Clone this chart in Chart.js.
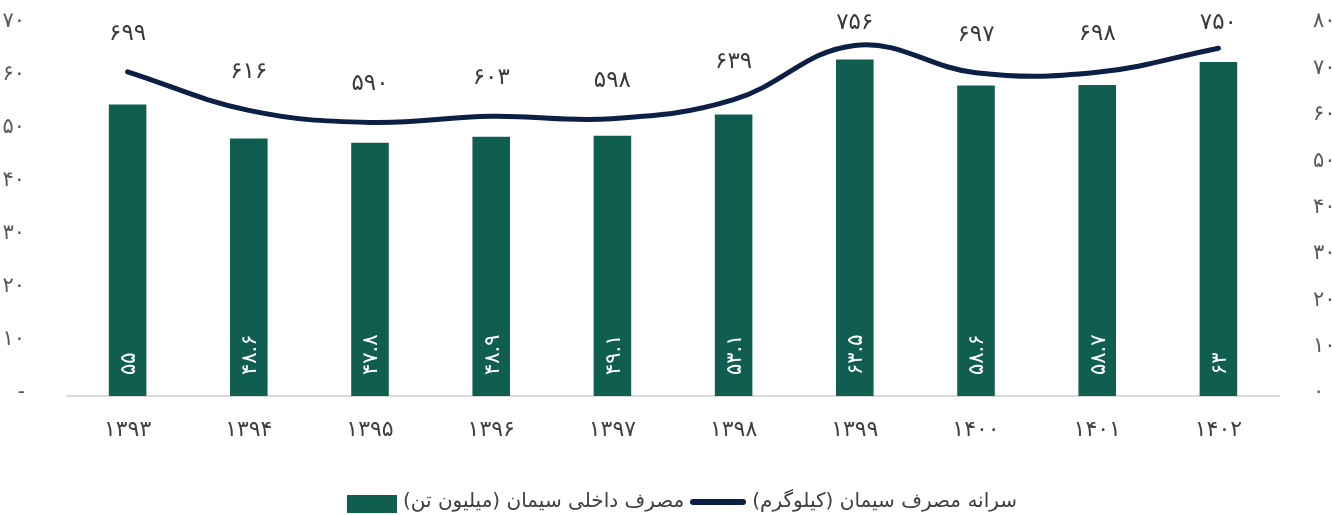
<!DOCTYPE html>
<html>
<head>
<meta charset="utf-8">
<script src="https://cdn.jsdelivr.net/npm/chart.js@4/dist/chart.umd.min.js"></script>
<style>
    html, body { margin: 0; padding: 0; background: #ffffff; }
    #wrap { position: relative; width: 1332px; height: 515px; }
    #legend {
        position: absolute; left: 0; top: 486px; width: 1332px; height: 28px;
        display: flex; justify-content: center; align-items: center;
        font-family: 'DejaVu Sans', sans-serif; font-size: 20px; color: #404040;
        transform: translateX(16px);
    }
    .box { width: 50px; height: 18px; background: #105e50; margin-right: 6px; margin-top: 8px; }
    .ln { width: 56px; height: 6px; border-radius: 3px; background: #0c1f45; margin: 4px 6px 0 6px; }
</style>
</head>
<body>
<div id="wrap">
    <canvas id="chart" width="1332" height="515"></canvas>
    <div id="legend">
        <div class="box"></div>
        <span dir="rtl">مصرف داخلی سیمان (میلیون تن)</span>
        <div class="ln"></div>
        <span dir="rtl">سرانه مصرف سیمان (کیلوگرم)</span>
    </div>
</div>
<script>
// Chart data
const years = ['1393', '1394', '1395', '1396', '1397', '1398', '1399', '1400', '1401', '1402'];
const consumption = [55, 48.6, 47.8, 48.9, 49.1, 53.1, 63.5, 58.6, 58.7, 63];
const perCapita = [699, 616, 590, 603, 598, 639, 756, 697, 698, 750];

const consumptionLabel = 'مصرف داخلی سیمان (میلیون تن)';
const perCapitaLabel = 'سرانه مصرف سیمان (کیلوگرم)';

const FONT = "'DejaVu Sans', sans-serif";

// Convert western digits to Persian digits
function fa(v) {
    return String(v).replace(/[0-9]/g, (d) => '۰۱۲۳۴۵۶۷۸۹'[d]);
}

// Draw value labels: rotated white text in bars, dark text above line points
const valueLabels = {
    id: 'valueLabels',
    afterDatasetsDraw(chart) {
        const ctx = chart.ctx;
        const bottom = chart.scales.y.getPixelForValue(0);

        chart.getDatasetMeta(0).data.forEach((bar, i) => {
            ctx.save();
            ctx.translate(bar.x + 2, bottom - 21);
            ctx.rotate(-Math.PI / 2);
            ctx.font = '21px ' + FONT;
            ctx.fillStyle = '#ffffff';
            ctx.textAlign = 'left';
            ctx.textBaseline = 'middle';
            ctx.fillText(fa(consumption[i]), 0, 0);
            ctx.restore();
        });

        chart.getDatasetMeta(1).data.forEach((pt, i) => {
            ctx.save();
            ctx.font = '23px ' + FONT;
            ctx.fillStyle = '#3a3a3a';
            ctx.textAlign = 'center';
            ctx.textBaseline = 'middle';
            ctx.fillText(fa(perCapita[i]), pt.x, Math.max(pt.y - 38, 23));
            ctx.restore();
        });
    }
};

// keep the y axes from pushing the plot area down
function fixY(width) {
    return (scale) => {
        scale.width = width;
        scale.paddingTop = 0;
        scale.paddingBottom = 0;
    };
}

new Chart(document.getElementById('chart').getContext('2d'), {
    data: {
        labels: years.map(fa),
        datasets: [{
            type: 'bar',
            label: consumptionLabel,
            data: consumption,
            backgroundColor: '#105e50',
            barPercentage: 0.31,
            categoryPercentage: 1,
            yAxisID: 'y',
            order: 2
        }, {
            type: 'line',
            label: perCapitaLabel,
            data: perCapita,
            borderColor: '#0c1f45',
            borderWidth: 5,
            borderCapStyle: 'round',
            pointRadius: 0,
            tension: 0.4,
            fill: false,
            yAxisID: 'y1',
            order: 1
        }]
    },
    options: {
        responsive: false,
        animation: false,
        layout: { padding: { top: 25, bottom: 59, left: 0, right: 0 } },
        plugins: {
            legend: { display: false },
            tooltip: { enabled: false }
        },
        scales: {
            x: {
                grid: { display: false },
                border: { color: '#d9d9d9', width: 2 },
                ticks: { color: '#404040', font: { family: FONT, size: 22 }, padding: 13 },
                afterFit: (scale) => { scale.height = 60; }
            },
            y: {
                position: 'left',
                min: 0, max: 70,
                grid: { display: false },
                border: { display: false },
                ticks: {
                    stepSize: 10,
                    color: '#595959',
                    font: { family: FONT, size: 21 },
                    padding: 34,
                    labelOffset: -3,
                    callback: (v) => v === 0 ? '-' : fa(v)
                },
                afterFit: fixY(67)
            },
            y1: {
                position: 'right',
                min: 0, max: 800,
                grid: { display: false },
                border: { display: false },
                ticks: {
                    stepSize: 100,
                    color: '#595959',
                    font: { family: FONT, size: 21 },
                    padding: 26,
                    labelOffset: -3,
                    callback: (v) => fa(v)
                },
                afterFit: fixY(53)
            }
        }
    },
    plugins: [valueLabels]
});
</script>
</body>
</html>
